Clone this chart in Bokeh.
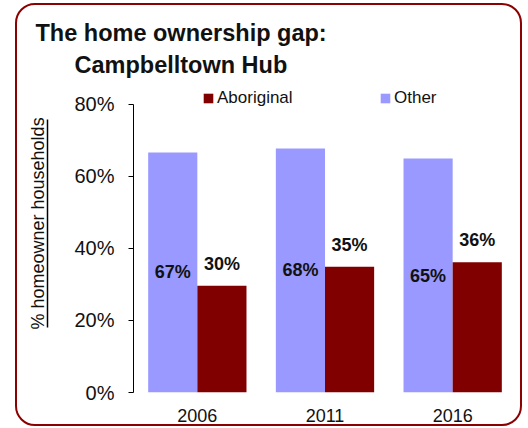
from bokeh.plotting import figure
from bokeh.models import (ColumnDataSource, FactorRange, Range1d, FixedTicker,
                          PrintfTickFormatter, Legend, LegendItem, Title,
                          LinearAxis)
from bokeh.transform import dodge
from bokeh.core.properties import value
from bokeh.embed import file_html
from bokeh.resources import INLINE

# ---- data ----
years = ["2006", "2011", "2016"]
other = [66.6, 67.7, 64.9]
aboriginal = [29.6, 34.9, 36.1]
other_labels = ["67%", "68%", "65%"]
aboriginal_labels = ["30%", "35%", "36%"]
y_ticks = [0, 20, 40, 60, 80]
title_line1 = "The home ownership gap:"
title_line2 = "Campbelltown Hub"
y_title = "% homeowner households"

FONT = "Liberation Sans"
OTHER_COLOR = "#9999FF"
ABO_COLOR = "#800000"
TEXT = "#111111"

source = ColumnDataSource(dict(
    year=years, other=other, aboriginal=aboriginal,
    other_half=[v / 2 for v in other],
    other_label=other_labels, abo_label=aboriginal_labels,
))

p = figure(width=507, height=423, x_range=FactorRange(factors=years),
           y_range=Range1d(0, 86), output_backend="svg", toolbar_location=None,
           min_border_left=116, min_border_right=8, min_border_top=77,
           min_border_bottom=36)
p.title = None
p.background_fill_color = None
p.border_fill_color = None
p.outline_line_color = None
p.xgrid.visible = False
p.ygrid.visible = False
p.styles = {"border": "2px solid #8B0000", "border-radius": "20px",
            "margin": "3px 0px 0px 15px"}

r_other = p.vbar(x=dodge("year", -0.1925, range=p.x_range), top="other",
                 width=0.385, source=source, fill_color=OTHER_COLOR,
                 line_color=None)
r_abo = p.vbar(x=dodge("year", 0.1925, range=p.x_range), top="aboriginal",
               width=0.385, source=source, fill_color=ABO_COLOR,
               line_color=None)

p.text(x=dodge("year", -0.1925, range=p.x_range), y="other_half",
       text="other_label", source=source, text_align="center",
       text_baseline="middle", text_font=value(FONT),
       text_font_style="bold", text_font_size="18px", text_color=TEXT)
p.text(x=dodge("year", 0.1925, range=p.x_range), y="aboriginal",
       text="abo_label", source=source, text_align="center",
       text_baseline="alphabetic", y_offset=-22, text_font=value(FONT),
       text_font_style="bold", text_font_size="18px", text_color=TEXT)

# main y axis
ya = p.yaxis[0]
ya.ticker = FixedTicker(ticks=y_ticks)
ya.formatter = PrintfTickFormatter(format="%d%%")
ya.bounds = (0, 80)
ya.axis_line_color = "black"
ya.major_tick_line_color = "black"
ya.major_tick_out = 5
ya.major_tick_in = 0
ya.minor_tick_line_color = None
ya.major_label_standoff = 14
ya.major_label_text_font = FONT
ya.major_label_text_font_size = "20px"
ya.major_label_text_color = TEXT
ya.axis_label = " "
ya.axis_label_text_font_size = "1px"
ya.axis_label_standoff = 20

# x axis
xa = p.xaxis[0]
xa.axis_line_color = None
xa.major_tick_line_color = None
xa.minor_tick_line_color = None
xa.major_label_standoff = 10
xa.major_label_text_font = FONT
xa.major_label_text_font_size = "18px"
xa.major_label_text_color = TEXT

# underline of the y title (an axis line with no ticks)
ul = LinearAxis(ticker=FixedTicker(ticks=[]), bounds=(18.0, 75.7),
                axis_line_color="black", axis_line_width=1.5,
                major_tick_out=0, major_tick_in=0, minor_tick_out=0,
                minor_tick_in=0, major_label_standoff=0,
                minor_tick_line_color=None, major_tick_line_color=None)
p.add_layout(ul, "left")

# y title
p.add_layout(Title(text=y_title, align="left", offset=63, standoff=0,
                   text_font=FONT, text_font_size="18px",
                   text_font_style="normal", text_color=TEXT), "left")

# titles
p.add_layout(Title(text=title_line2, align="left", offset=-59, standoff=9,
                   text_font=FONT, text_font_size="23.5px",
                   text_font_style="bold", text_color=TEXT), "above")
p.add_layout(Title(text=title_line1, align="left", offset=-98, standoff=0,
                   text_font=FONT, text_font_size="23.5px",
                   text_font_style="bold", text_color=TEXT), "above")

# legend
legend = Legend(items=[LegendItem(label="Aboriginal", renderers=[r_abo]),
                       LegendItem(label="Other", renderers=[r_other])],
                orientation="horizontal", location=(69, 284),
                glyph_width=12, glyph_height=12, label_standoff=3,
                label_width=150, label_height=20, spacing=12, padding=3,
                margin=0, border_line_color=None, background_fill_alpha=0,
                label_text_font=FONT, label_text_font_size="17px",
                label_text_color=TEXT)
p.add_layout(legend, "center")

open("out.html", "w").write(file_html(p, INLINE))
